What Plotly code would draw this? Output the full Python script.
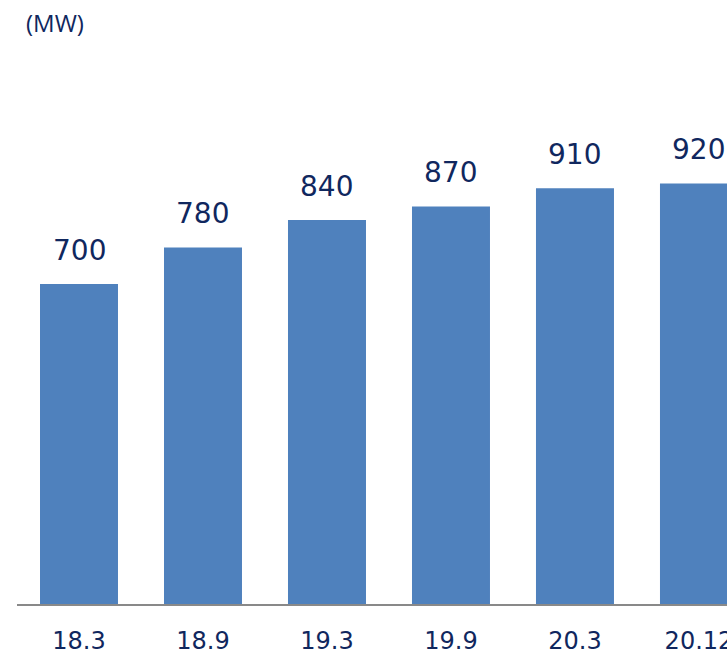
import plotly.graph_objects as go

periods = ["18.3", "18.9", "19.3", "19.9", "20.3", "20.12"]
capacity_mw = [700, 780, 840, 870, 910, 920]
unit_label = "(MW)"

bar_color = "#4F81BD"
text_color = "#10275E"

fig = go.Figure()
fig.add_trace(go.Bar(
    x=periods,
    y=capacity_mw,
    marker=dict(color=bar_color, line=dict(width=0)),
    hoverinfo="skip",
))

for i, v in enumerate(capacity_mw):
    fig.add_annotation(
        x=i, y=v, xref="x", yref="y",
        text=str(v), showarrow=False,
        yanchor="middle", yshift=34,
        font=dict(family="DejaVu Sans", size=28, color=text_color),
    )

fig.add_annotation(
    xref="paper", yref="paper", x=0, y=1,
    xanchor="left", yanchor="middle",
    xshift=7, yshift=147 - 22,
    text=unit_label, showarrow=False,
    font=dict(family="Open Sans", size=24, color=text_color),
)

fig.update_layout(
    width=727, height=653,
    margin=dict(l=17, r=0, t=147, b=49, pad=0, autoexpand=False),
    plot_bgcolor="white", paper_bgcolor="white",
    bargap=0.371,
    showlegend=False,
    xaxis=dict(
        type="category",
        range=[-0.5, 5.226],
        automargin=False,
        showline=True, linecolor="#898989", linewidth=2,
        showgrid=False, zeroline=False,
        ticks="", ticklabelstandoff=14,
        tickfont=dict(family="DejaVu Sans", size=24, color=text_color),
    ),
    yaxis=dict(
        range=[0, 1000],
        visible=False,
        automargin=False,
        showgrid=False, zeroline=False,
    ),
)

fig.write_html(
    "out.html",
    config={"displayModeBar": False},
    post_script="document.body.style.margin='0';document.body.style.overflow='hidden';",
)
